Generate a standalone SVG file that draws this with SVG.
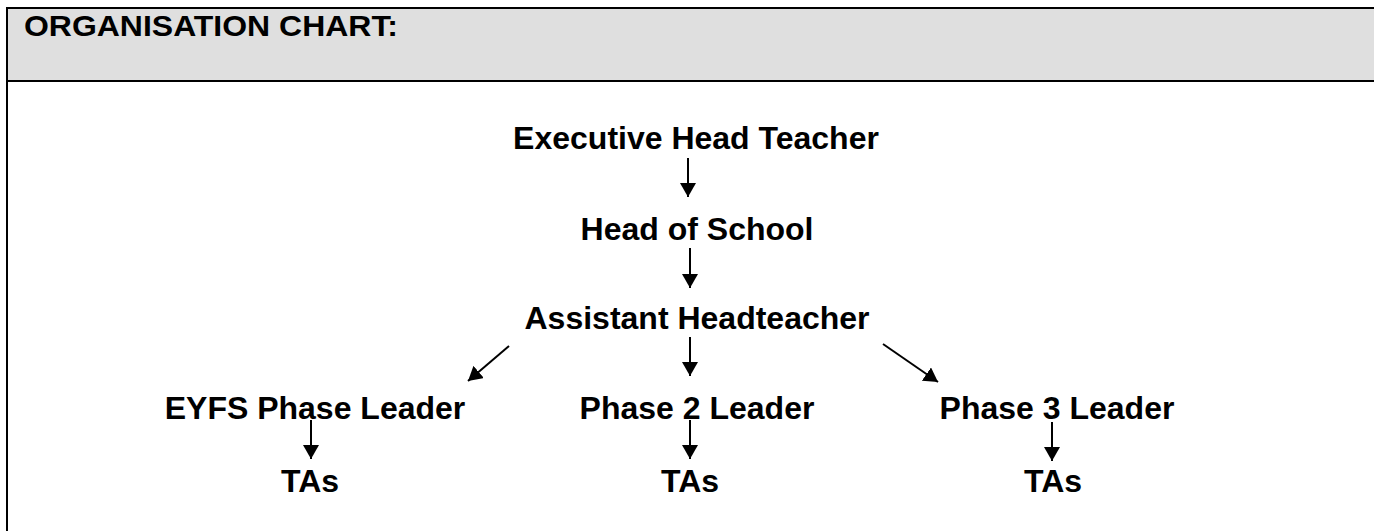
<svg xmlns="http://www.w3.org/2000/svg" width="1374" height="531" viewBox="0 0 1374 531">
<style>
.t{font-family:"Liberation Sans",Arial,sans-serif;font-weight:bold;font-size:32px;fill:#000;text-anchor:middle}
.title{font-family:"Liberation Sans",Arial,sans-serif;font-weight:bold;font-size:30px;fill:#000}
.c{stroke:#000;stroke-width:2;fill:none}
</style>
<defs>
<marker id="ah" viewBox="0 0 14 16" refX="14" refY="8" markerWidth="14" markerHeight="16" markerUnits="userSpaceOnUse" orient="auto">
<path d="M0,0 L14,8 L0,16 Z" fill="#000"/>
</marker>
</defs>
<rect x="0" y="0" width="1374" height="531" fill="#fff"/>
<g id="frame">
<rect x="8" y="9" width="1366" height="72" fill="#dfdfdf"/>
<line x1="6" y1="8" x2="1374" y2="8" stroke="#000" stroke-width="2"/>
<line x1="6" y1="81" x2="1374" y2="81" stroke="#000" stroke-width="2"/>
<line x1="7" y1="7" x2="7" y2="531" stroke="#000" stroke-width="2"/>
<text class="title" x="24" y="36" textLength="374" lengthAdjust="spacingAndGlyphs">ORGANISATION CHART:</text>
</g>
<g id="n-exec"><text class="t" x="696" y="149">Executive Head Teacher</text></g>
<g id="n-hos"><text class="t" x="697" y="240">Head of School</text></g>
<g id="n-ah"><text class="t" x="697" y="329">Assistant Headteacher</text></g>
<g id="n-eyfs"><text class="t" x="315" y="419">EYFS Phase Leader</text></g>
<g id="n-p2"><text class="t" x="697" y="419">Phase 2 Leader</text></g>
<g id="n-p3"><text class="t" x="1057" y="419">Phase 3 Leader</text></g>
<g id="n-ta1"><text class="t" x="310" y="492">TAs</text></g>
<g id="n-ta2"><text class="t" x="690" y="492">TAs</text></g>
<g id="n-ta3"><text class="t" x="1053" y="492">TAs</text></g>
<g id="connectors">
<line class="c" x1="688" y1="158" x2="688" y2="197" marker-end="url(#ah)"/>
<line class="c" x1="690" y1="248" x2="690" y2="288" marker-end="url(#ah)"/>
<line class="c" x1="509" y1="346" x2="468" y2="381" marker-end="url(#ah)"/>
<line class="c" x1="690" y1="337" x2="690" y2="376" marker-end="url(#ah)"/>
<line class="c" x1="883" y1="344" x2="938" y2="382" marker-end="url(#ah)"/>
<line class="c" x1="311" y1="420" x2="311" y2="459" marker-end="url(#ah)"/>
<line class="c" x1="690" y1="420" x2="690" y2="459" marker-end="url(#ah)"/>
<line class="c" x1="1052" y1="422" x2="1052" y2="461" marker-end="url(#ah)"/>
</g>
</svg>
